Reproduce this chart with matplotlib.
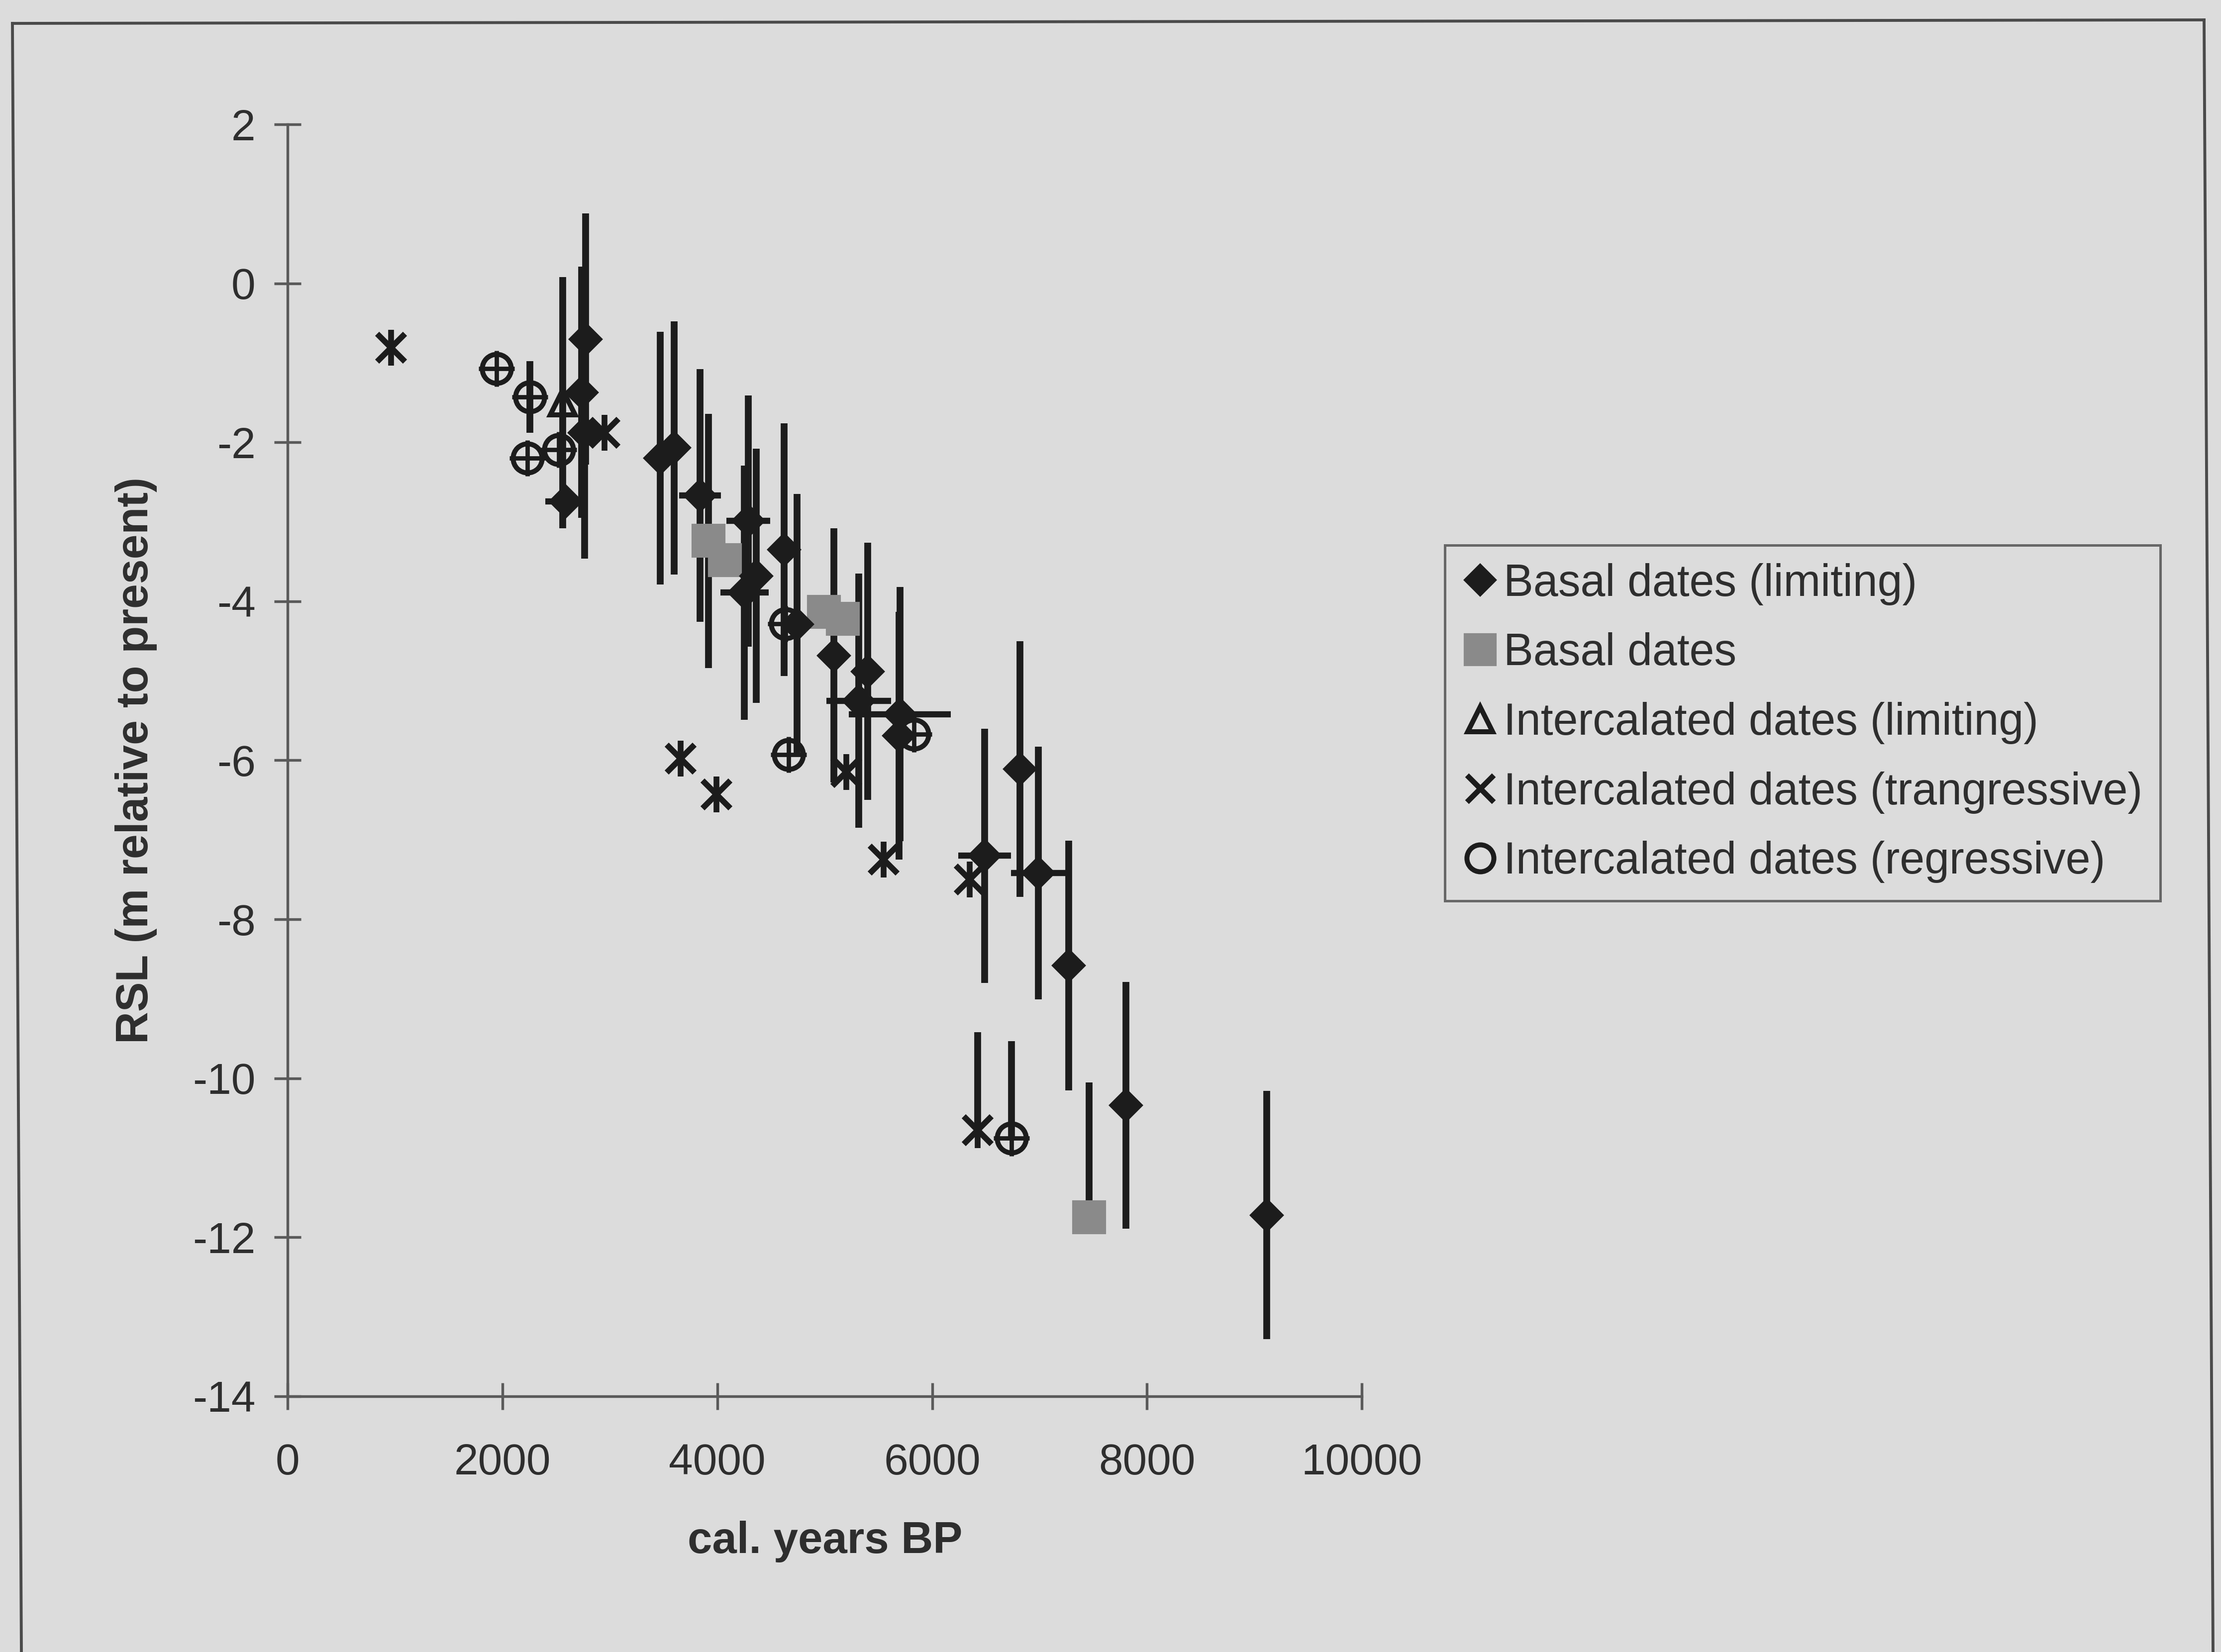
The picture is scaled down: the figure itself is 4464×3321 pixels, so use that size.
import matplotlib
matplotlib.use("Agg")
import matplotlib.pyplot as plt
from matplotlib.lines import Line2D
import numpy as np

plt.rcParams['font.family'] = ['Liberation Sans', 'DejaVu Sans']

# ---- data: cal. years BP, RSL (m relative to present) ----
# Basal dates (limiting)
basal_lim_age = [2774, 2737, 2765, 2590, 3469, 3599, 3840, 4289, 4360, 4252,
                 4622, 4740, 5086, 5400, 5317, 5700, 5693, 6818, 6489, 6990,
                 7272, 7805, 9115]
basal_lim_rsl = [-0.70, -1.37, -1.88, -2.74, -2.20, -2.07, -2.67, -2.99, -3.68, -3.89,
                 -3.35, -4.29, -4.68, -4.88, -5.25, -5.42, -5.69, -6.11, -7.20, -7.42,
                 -8.58, -10.34, -11.72]
basal_lim_rsl_err = [1.58, 1.58, 1.58, 0.0, 1.59, 1.59, 1.59, 1.58, 1.60, 1.60,
                     1.59, 1.64, 1.60, 1.62, 1.60, 1.60, 1.56, 1.61, 1.60, 1.59,
                     1.57, 1.55, 1.56]
basal_lim_age_err = [0, 0, 0, 190, 0, 0, 195, 205, 0, 225,
                     0, 0, 0, 0, 300, 475, 0, 0, 245, 257,
                     0, 0, 0]

# Basal dates
basal_age = [3918, 4072, 4990, 5170, 7462]
basal_rsl = [-3.24, -3.48, -4.13, -4.22, -11.75]
basal_err_below = [1.6, 0, 0, 0, 0]
basal_err_above = [1.6, 0, 0, 0, 1.7]

# Intercalated dates (limiting)
icl_lim_age = [2560]
icl_lim_rsl = [-1.50]
icl_lim_err = [1.58]

# Intercalated dates (transgressive)
trans_age = [963, 2950, 3660, 3990, 5202, 5549, 6350, 6424]
trans_rsl = [-0.81, -1.88, -5.98, -6.43, -6.15, -7.25, -7.50, -10.65]
trans_err_below = [0, 0, 0, 0, 0, 0, 0, 0]
trans_err_above = [0, 0, 0, 0, 0, 0, 0, 1.23]

# Intercalated dates (regressive)
regr_age = [1945, 2256, 2233, 2525, 4636, 4664, 5831, 6739]
regr_rsl = [-1.07, -1.43, -2.20, -2.09, -4.28, -5.93, -5.67, -10.75]
regr_err_below = [0, 0.45, 0, 0, 0, 0, 0, 0]
regr_err_above = [0, 0.45, 0, 0, 0, 0, 0, 1.22]

x_ticks = [0, 2000, 4000, 6000, 8000, 10000]
y_ticks = [2, 0, -2, -4, -6, -8, -10, -12, -14]

legend_labels = ["Basal dates (limiting)", "Basal dates",
                 "Intercalated dates (limiting)",
                 "Intercalated dates (trangressive)",
                 "Intercalated dates (regressive)"]

# ---- style ----
bg = '#dcdcdc'
ink = '#1c1c1c'
txt = '#2e2e2e'
axc = '#5a5a5a'
grey_sq = '#8a8a8a'
ELW = 3.3

fig = plt.figure(figsize=(14.88, 11.07), dpi=300, facecolor=bg)
ax = fig.add_axes([0.1295, 0.1548, 0.4837, 0.7699])
ax.set_facecolor(bg)
ax.patch.set_alpha(0)


def vbars(x, y, below, above, xerr=None, zorder=2):
    x = np.asarray(x, float); y = np.asarray(y, float)
    below = np.asarray(below, float); above = np.asarray(above, float)
    m = (below > 0) | (above > 0)
    if m.any():
        ax.errorbar(x[m], y[m], yerr=[below[m], above[m]], fmt='none',
                    ecolor=ink, elinewidth=ELW, capsize=0, zorder=zorder)
    if xerr is not None:
        xerr = np.asarray(xerr, float)
        mx = xerr > 0
        if mx.any():
            ax.errorbar(x[mx], y[mx], xerr=xerr[mx], fmt='none',
                        ecolor=ink, elinewidth=ELW * 0.9, capsize=0, zorder=zorder)


# error bars
vbars(basal_lim_age, basal_lim_rsl, basal_lim_rsl_err, basal_lim_rsl_err,
      xerr=basal_lim_age_err)
vbars(basal_age, basal_rsl, basal_err_below, basal_err_above)
vbars(icl_lim_age, icl_lim_rsl, icl_lim_err, icl_lim_err)
vbars(trans_age, trans_rsl, trans_err_below, trans_err_above)
vbars(regr_age, regr_rsl, regr_err_below, regr_err_above)

# markers
ax.plot(basal_age, basal_rsl, ls='none', marker='s', ms=15.5,
        mfc=grey_sq, mec=grey_sq, zorder=3)
ax.plot(basal_lim_age, basal_lim_rsl, ls='none', marker='D', ms=11,
        mfc=ink, mec=ink, zorder=4)
ax.plot(icl_lim_age, icl_lim_rsl, ls='none', marker='^', ms=12,
        mfc='none', mec=ink, mew=2.4, zorder=4)
ax.plot(trans_age, trans_rsl, ls='none', marker='x', ms=13.5,
        mec=ink, mew=2.8, zorder=4)
ax.plot(trans_age, trans_rsl, ls='none', marker='|', ms=17.5,
        mec=ink, mew=2.8, zorder=4)
ax.plot(regr_age, regr_rsl, ls='none', marker='o', ms=14,
        mfc='none', mec=ink, mew=2.4, zorder=4)
ax.plot(regr_age, regr_rsl, ls='none', marker='+', ms=17.5,
        mec=ink, mew=2.1, zorder=4)

# axes
ax.set_xlim(0, 10000)
ax.set_ylim(-14, 2)
ax.set_xticks(x_ticks)
ax.set_yticks(y_ticks)
ax.set_xticklabels([str(v) for v in x_ticks])
ax.set_yticklabels([str(v) for v in y_ticks])
for s in ['top', 'right']:
    ax.spines[s].set_visible(False)
for s in ['left', 'bottom']:
    ax.spines[s].set_color(axc)
    ax.spines[s].set_linewidth(1.3)
ax.tick_params(axis='both', direction='inout', length=13, width=1.3,
               color=axc, labelsize=21, labelcolor=txt)
ax.tick_params(axis='y', pad=9)
ax.tick_params(axis='x', pad=16)

ax.set_xlabel("cal. years BP", fontsize=21.3, fontweight='bold', color=txt,
              labelpad=18)
ax.set_ylabel("RSL (m relative to present)", fontsize=21.5, fontweight='bold',
              color=txt, labelpad=17)

# legend
handles = [
    Line2D([], [], ls='none', marker='D', ms=10.5, mfc=ink, mec=ink),
    Line2D([], [], ls='none', marker='s', ms=15, mfc=grey_sq, mec=grey_sq),
    Line2D([], [], ls='none', marker='^', ms=12, mfc='none', mec=ink, mew=2.4),
    Line2D([], [], ls='none', marker='x', ms=13, mec=ink, mew=2.6),
    Line2D([], [], ls='none', marker='o', ms=13, mfc='none', mec=ink, mew=2.4),
]
leg = fig.legend(handles, legend_labels, loc='upper left',
                 bbox_to_anchor=(0.6505, 0.670), borderaxespad=0,
                 fontsize=21.5, frameon=True, fancybox=False,
                 handlelength=0.8, handletextpad=0.12, labelspacing=0.61,
                 borderpad=0.40)
fr = leg.get_frame()
fr.set_facecolor(bg)
fr.set_edgecolor('#4a4a4a')
fr.set_linewidth(1.2)
for t in leg.get_texts():
    t.set_color(txt)

# outer frame of the chart area
frame_kw = dict(color='#4a4a4a', lw=1.4, transform=fig.transFigure)
fig.add_artist(Line2D([25 / 4464, 43 / 4464], [1 - 47 / 3321, 0], **frame_kw))
fig.add_artist(Line2D([25 / 4464, 4430 / 4464], [1 - 47 / 3321, 1 - 40 / 3321], **frame_kw))
fig.add_artist(Line2D([4430 / 4464, 4448 / 4464], [1 - 40 / 3321, 0], **frame_kw))

fig.savefig("out.png", dpi=300, facecolor=bg)
